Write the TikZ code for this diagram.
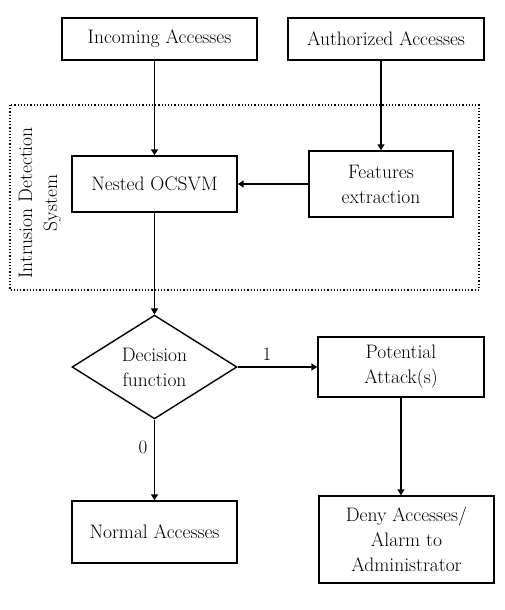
\documentclass[tikz,border=0pt]{standalone}
\usetikzlibrary{shapes.geometric,arrows.meta}
\begin{document}
\begin{tikzpicture}[x=1pt,y=-1pt,
  every node/.style={font=\fontsize{19.5}{25}\selectfont},
  box/.style={draw,line width=1.4pt,inner sep=0pt,align=center},
  arr/.style={line width=1.4pt,-{Triangle[length=6pt,width=7pt]}},
  lbl/.style={font=\fontsize{19}{22}\selectfont}]
\useasboundingbox (0,0) rectangle (505,610);
\node[box,minimum width=195pt,minimum height=42pt] (inc) at (159.5,39) {Incoming Accesses};
\node[box,minimum width=196pt,minimum height=42pt] (aut) at (386,39) {Authorized Accesses};
\draw[dotted,line width=1.2pt] (10,105) rectangle (479,290);
\node[rotate=90,align=center,inner sep=0pt] (ids) at (40,203) {Intrusion Detection\\System};
\node[box,minimum width=165pt,minimum height=56pt] (nes) at (154.5,184) {Nested OCSVM};
\node[box,minimum width=144pt,minimum height=66pt] (feat) at (381,184) {Features\\extraction};
\node[draw,line width=1.4pt,diamond,inner sep=0pt,minimum width=165pt,minimum height=102pt,align=center] (dia) at (154.5,367) {Decision\\function};
\node[box,minimum width=166pt,minimum height=60pt] (pot) at (401,367) {Potential\\Attack(s)};
\node[box,minimum width=175pt,minimum height=87pt] (deny) at (406.5,539.5) {Deny Accesses/\\Alarm to\\Administrator};
\node[box,minimum width=165pt,minimum height=62pt] (nor) at (154.5,532) {Normal Accesses};
\draw[arr] (inc.south -| nes.north) -- (nes.north);
\draw[arr] (aut.south -| feat.north) -- (feat.north);
\draw[arr] (feat.west) -- (nes.east);
\draw[arr] (nes.south) -- (dia.north);
\draw[arr] (dia.east) -- (pot.west);
\draw[arr] (dia.south) -- (nor.north);
\draw[arr] (pot.south) -- (pot.south |- deny.north);
\node[lbl] (one) at (267,354) {1};
\node[lbl] (zero) at (143,447) {0};
\end{tikzpicture}
\end{document}
